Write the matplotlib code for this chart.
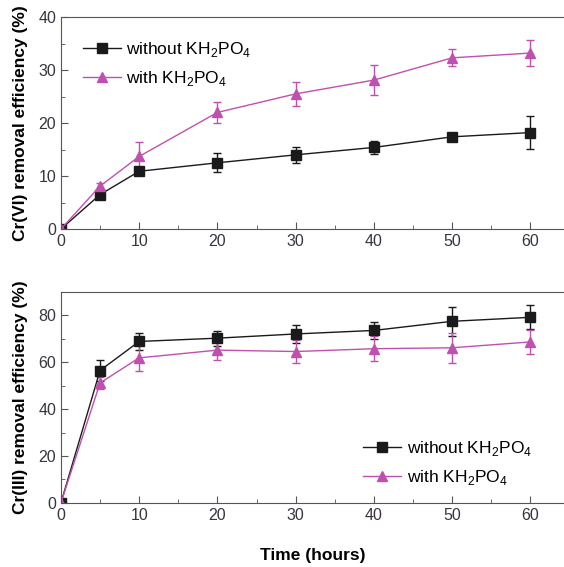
import matplotlib.pyplot as plt
from matplotlib.lines import Line2D
from matplotlib.ticker import MultipleLocator

plt.rcParams['font.family'] = ['Liberation Sans', 'DejaVu Sans']
plt.rcParams['mathtext.fontset'] = 'custom'
plt.rcParams['mathtext.rm'] = 'Liberation Sans'

# time points (hours)
t = [0, 5, 10, 20, 30, 40, 50, 60]

# Cr(VI) removal efficiency (%)
cr6_without = [0, 6.5, 10.9, 12.5, 14.0, 15.4, 17.4, 18.2]
cr6_without_err = [0, 0.5, 0.5, 1.8, 1.5, 1.2, 0.8, 3.1]
cr6_with = [0, 8.1, 13.7, 22.0, 25.5, 28.1, 32.3, 33.2]
cr6_with_err = [0, 0.6, 2.8, 2.0, 2.2, 2.8, 1.6, 2.4]

# Cr(III) removal efficiency (%)
cr3_without = [0, 56.5, 68.9, 70.3, 72.1, 73.6, 77.5, 79.2]
cr3_without_err = [0, 4.3, 3.7, 3.2, 3.8, 3.8, 6.1, 5.1]
cr3_with = [0, 51.2, 61.9, 65.2, 64.6, 65.8, 66.2, 68.7]
cr3_with_err = [0, 2.5, 5.7, 4.0, 4.9, 5.4, 6.4, 5.3]

labels = ['without KH$_2$PO$_4$', 'with KH$_2$PO$_4$']
black = '#1a1a1a'
pink = '#c050b0'
tick_col = '#3a3340'

fig = plt.figure(figsize=(5.64, 5.67), dpi=100)
ax1 = fig.add_axes([0.108, 0.596, 0.892, 0.374])
ax2 = fig.add_axes([0.108, 0.113, 0.892, 0.372])

handles = [Line2D([], [], color=black, marker='s', ms=6.5, lw=1),
           Line2D([], [], color=pink, marker='^', ms=7.5, lw=1)]


def draw(ax, y1, e1, y2, e2):
    ax.errorbar(t, y1, yerr=e1, color=black, marker='s', ms=6.5, lw=1,
                elinewidth=1, capsize=3)
    ax.errorbar(t, y2, yerr=e2, color=pink, marker='^', ms=7.5, lw=1,
                elinewidth=1, capsize=3)
    ax.set_xlim(0, 64.3)
    ax.xaxis.set_major_locator(MultipleLocator(10))
    ax.xaxis.set_minor_locator(MultipleLocator(5))
    ax.tick_params(which='both', direction='in', top=False, right=False,
                   colors='#555555', labelcolor=tick_col, labelsize=11.5)
    ax.tick_params(which='major', length=5)
    ax.tick_params(which='minor', length=3)
    ax.spines['right'].set_visible(False)
    for s in ['left', 'bottom', 'top']:
        ax.spines[s].set_color('#555555')


draw(ax1, cr6_without, cr6_without_err, cr6_with, cr6_with_err)
ax1.set_ylim(0, 40)
ax1.yaxis.set_major_locator(MultipleLocator(10))
ax1.yaxis.set_minor_locator(MultipleLocator(5))
ax1.set_ylabel('Cr(VI) removal efficiency (%)', fontsize=12.5,
               fontweight='bold', labelpad=7)
ax1.legend(handles, labels, loc='upper left', bbox_to_anchor=(0.012, 0.965),
           frameon=False, fontsize=12.5, handlelength=2.2, handletextpad=0.3,
           labelspacing=0.6)

draw(ax2, cr3_without, cr3_without_err, cr3_with, cr3_with_err)
ax2.set_ylim(0, 90)
ax2.yaxis.set_major_locator(MultipleLocator(20))
ax2.yaxis.set_minor_locator(MultipleLocator(10))
ax2.set_ylabel('Cr(III) removal efficiency (%)', fontsize=12.5,
               fontweight='bold', labelpad=7)
ax2.set_xlabel('Time (hours)', fontsize=12.5, fontweight='bold', labelpad=18)
ax2.legend(handles, labels, loc='lower left', bbox_to_anchor=(0.57, 0.0),
           frameon=False, fontsize=12.5, handlelength=2.2, handletextpad=0.3,
           labelspacing=0.6)

fig.savefig('out.png', dpi=100)
